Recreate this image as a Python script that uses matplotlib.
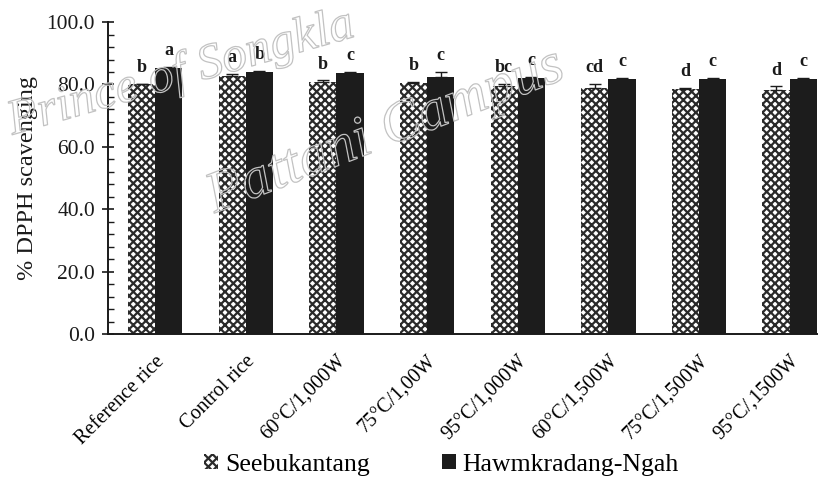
import matplotlib
matplotlib.use("Agg")
import matplotlib.pyplot as plt
import matplotlib.patheffects as pe
from matplotlib.patches import Patch
from matplotlib.ticker import MultipleLocator
import numpy as np

plt.rcParams['font.family'] = ['Liberation Serif', 'DejaVu Serif']
plt.rcParams['hatch.linewidth'] = 1.6

categories = ["Reference rice", "Control rice", "60°C/1,000W", "75°C/1,00W",
              "95°C/1,000W", "60°C/1,500W", "75°C/1,500W", "95°C/,1500W"]
seeb_vals = [80.0, 82.6, 80.9, 80.4, 79.4, 79.0, 78.5, 78.2]
seeb_err = [0.3, 0.8, 0.4, 0.4, 0.9, 1.1, 0.4, 1.2]
seeb_letters = ["b", "a", "b", "b", "bc", "cd", "d", "d"]
hawm_vals = [85.3, 83.9, 83.8, 82.3, 82.0, 81.7, 81.6, 81.7]
hawm_err = [0.3, 0.4, 0.3, 1.6, 0.4, 0.5, 0.5, 0.3]
hawm_letters = ["a", "b", "c", "c", "c", "c", "c", "c"]
series_names = ["Seebukantang", "Hawmkradang-Ngah"]

fig = plt.figure(figsize=(8.25, 4.9), dpi=100)
ax = fig.add_axes([0.131, 0.318, 0.859, 0.637])

x = np.arange(len(categories))
w = 0.3
ax.bar(x - w / 2, seeb_vals, w, color="white", edgecolor="#2a2a2a",
       hatch="xxxx", linewidth=0)
ax.bar(x + w / 2, hawm_vals, w, color="#1c1c1c", linewidth=0)
ax.errorbar(x - w / 2, seeb_vals, yerr=[[0] * len(x), seeb_err], fmt="none",
            ecolor="#1c1c1c", elinewidth=1.0, capsize=4, capthick=1.0)
ax.errorbar(x + w / 2, hawm_vals, yerr=[[0] * len(x), hawm_err], fmt="none",
            ecolor="#1c1c1c", elinewidth=1.0, capsize=4, capthick=1.0)

for xi, v, e, t in zip(x - w / 2, seeb_vals, seeb_err, seeb_letters):
    ax.text(xi, v + e + 2.5, t, ha="center", va="bottom", fontsize=13,
            fontweight="bold", color="#1a1a1a", zorder=12)
for xi, v, e, t in zip(x + w / 2, hawm_vals, hawm_err, hawm_letters):
    ax.text(xi, v + e + 2.5, t, ha="center", va="bottom", fontsize=13,
            fontweight="bold", color="#1a1a1a", zorder=12)

ax.set_xlim(-0.52, len(x) - 0.7)
ax.set_ylim(0, 100)
ax.yaxis.set_minor_locator(MultipleLocator(4))
ax.set_yticks(np.arange(0, 101, 20))
ax.set_yticklabels([f"{v:.1f}" for v in np.arange(0, 101, 20)], fontsize=15.5)
ax.tick_params(axis="y", which="major", direction="inout", length=9, width=1.2,
               pad=5, colors="#1a1a1a")
ax.tick_params(axis="y", which="minor", direction="in", length=4, width=1.0,
               colors="#1a1a1a")
ax.set_xticks(x)
ax.set_xticklabels(categories, rotation=45, ha="right", rotation_mode="anchor",
                   fontsize=14.5)
ax.tick_params(axis="x", length=0, pad=13)
ax.set_ylabel("% DPPH scavenging", fontsize=17.5, labelpad=6, color="#1a1a1a")
for s in ["top", "right"]:
    ax.spines[s].set_visible(False)
for s in ["left", "bottom"]:
    ax.spines[s].set_linewidth(1.4)
    ax.spines[s].set_color("#1a1a1a")

# faint outlined watermark (transparent fill, light grey outline)
wm_kw = dict(style="italic", color=(1, 1, 1, 0), zorder=10,
             rotation_mode="anchor", ha="left", va="baseline",
             path_effects=[pe.Stroke(linewidth=0.9, foreground="#c2c2c2")])
fig.text(0.015, 0.725, "Prince of Songkla", rotation=16, fontsize=36, **wm_kw)
fig.text(0.26, 0.565, "Pattani Campus", rotation=21, fontsize=42, **wm_kw)

handles = [Patch(facecolor="white", edgecolor="#2a2a2a", hatch="xxxx", linewidth=0),
           Patch(facecolor="#1c1c1c", linewidth=0)]
fig.legend(handles, series_names, loc="center", bbox_to_anchor=(0.535, 0.052),
           ncol=2, frameon=False, fontsize=18.5, handlelength=0.55,
           handleheight=0.55, handletextpad=0.25, columnspacing=2.8)

fig.savefig("out.png", dpi=100)
